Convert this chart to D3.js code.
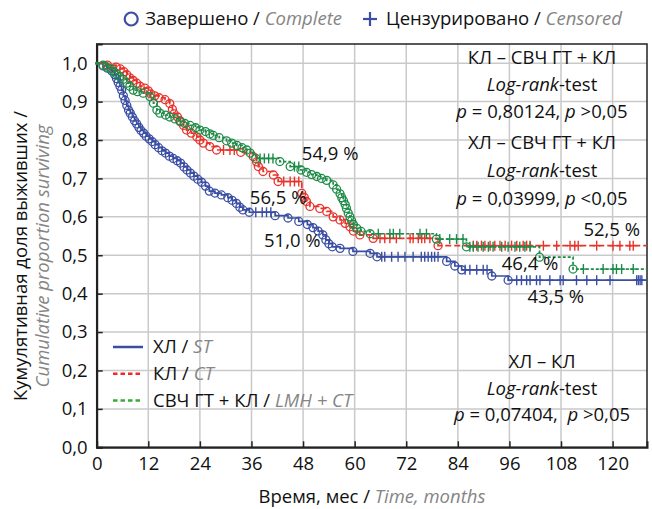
<!DOCTYPE html>
<html><head><meta charset="utf-8">
<script src="https://cdn.jsdelivr.net/npm/d3@7"></script>
<style>body{margin:0;background:#fff}svg{display:block}text{font-family:"Open Sans",sans-serif}</style>
</head><body><div id="c"></div>
<script>
// ---------------- data ----------------
const xTicks = [0,12,24,36,48,60,72,84,96,108,120];
const yTicks = [0,0.1,0.2,0.3,0.4,0.5,0.6,0.7,0.8,0.9,1.0];

// ХЛ / ST
const stTimes = [1.5,2.5,3.5,4.2,4.6,5.0,5.4,5.8,6.2,6.6,7.0,7.4,7.8,8.3,8.8,9.3,9.8,10.3,10.9,11.5,12.2,12.9,13.6,14.4,15.2,16.0,16.9,17.8,18.7,19.5,20.3,21.0,21.8,22.6,23.5,24.4,25.3,26.2,27.5,29.0,30.5,31.5,32.5,33.3,34.0,35.5,41.5,44.5,47.0,49.0,50.3,51.5,52.6,53.3,54.0,54.8,56.6,59.6,63.6,65.2,81.4,83.3,84.9,91.9,95.7];
const stSurv  = [0.993,0.987,0.98,0.97,0.96,0.95,0.94,0.93,0.915,0.903,0.89,0.878,0.87,0.86,0.85,0.842,0.833,0.825,0.818,0.81,0.803,0.796,0.788,0.78,0.772,0.766,0.758,0.752,0.746,0.74,0.73,0.722,0.714,0.706,0.698,0.69,0.68,0.667,0.662,0.657,0.65,0.643,0.635,0.625,0.618,0.612,0.603,0.597,0.588,0.58,0.572,0.563,0.553,0.54,0.53,0.522,0.518,0.51,0.505,0.496,0.484,0.472,0.462,0.446,0.435];
const stCensored = [37,38.5,39.5,40.5,66.3,67,68.6,70.1,71.7,73.6,75.5,76.3,77.1,77.9,78.6,79.4,85.7,86.8,88.4,89.9,90.8,97.7,98.8,100,100.8,102.3,103.1,105.4,107.8,108.5,111.6,114,116.3,119.4,125.6,126,126.4,126.8];

// КЛ / CT
const ctTimes = [2.5,4.5,5.5,6.3,7.0,7.7,8.5,9.3,10.1,11.2,12.0,12.6,13.5,14.5,15.9,17.0,17.6,18.0,18.8,19.4,20.2,20.9,22.0,23.3,24.0,24.8,26.3,27.9,33.5,36.4,37.2,37.6,38.7,41.1,42.2,47.7,48.3,48.8,49.6,51.9,53.5,55.0,56.6,57.8,58.9,59.7,61.2,64.3,79.4];
const ctSurv  = [0.995,0.99,0.985,0.978,0.97,0.962,0.955,0.948,0.94,0.935,0.928,0.92,0.915,0.91,0.905,0.895,0.88,0.868,0.86,0.85,0.838,0.826,0.818,0.808,0.8,0.792,0.783,0.774,0.768,0.757,0.743,0.731,0.718,0.709,0.692,0.661,0.65,0.64,0.627,0.622,0.614,0.6,0.592,0.583,0.574,0.563,0.553,0.544,0.525];
const ctCensored = [29.5,31,32,43.5,45,46,47,65.9,67,68.2,69.7,72.9,73.6,74.8,75.6,76.3,77.5,87.6,88.4,89.5,90.3,91.5,92.6,93.8,95,96.5,97.7,99.2,100,100.8,103.9,107,110.1,111.2,112,116.3,120.1,121.7,124,124.8];

// СВЧ ГТ + КЛ / LMH + CT
const lmhTimes = [1.5,2.3,3.3,4.0,4.7,5.4,6.2,7.0,7.7,8.5,9.5,10.8,12.4,13.2,14.0,14.7,16.0,17.0,18.2,19.4,20.5,21.7,23.0,24.0,25.3,26.3,27.1,28.5,30.2,31.4,32.6,33.8,34.9,35.7,37.0,42.6,45.0,47.5,48.8,50.0,51.2,52.3,53.5,55.0,55.8,56.6,57.0,57.4,57.8,58.1,58.5,58.9,59.3,59.7,60.5,61.5,63.6,79.0,86.0,103.0,110.8];
const lmhSurv  = [0.995,0.99,0.985,0.978,0.972,0.965,0.958,0.948,0.94,0.93,0.926,0.922,0.913,0.896,0.878,0.87,0.865,0.86,0.855,0.848,0.843,0.838,0.832,0.826,0.822,0.816,0.812,0.806,0.798,0.792,0.786,0.78,0.774,0.766,0.752,0.744,0.731,0.722,0.716,0.71,0.705,0.7,0.695,0.683,0.672,0.66,0.65,0.642,0.632,0.622,0.61,0.6,0.59,0.58,0.57,0.562,0.556,0.542,0.522,0.495,0.464];
const lmhCensored = [38,39,40,41,46,47,65.5,68.2,69,70.5,75.2,76.7,79.8,82.1,83.7,85.2,86.8,87.6,88.7,89.9,91.1,92.2,94.2,95.7,97.3,98.4,99.6,100.8,113.2,117.8,120.1,120.9,122.1,124.8];

const series = [
  {name:"ХЛ", en:"ST", times:stTimes, surv:stSurv, cens:stCensored, color:"#3a4ea3", legendColor:"#3a4ea3", dash:null},
  {name:"КЛ", en:"CT", times:ctTimes, surv:ctSurv, cens:ctCensored, color:"#e8332b", legendColor:"#f0282a", dash:"6,3"},
  {name:"СВЧ ГТ + КЛ", en:"LMH + CT", times:lmhTimes, surv:lmhSurv, cens:lmhCensored, color:"#1e8c48", legendColor:"#3aab3a", dash:"3,2"}
];

const pctLabels = [
  {text:"54,9 %", t:54.3, s:0.765},
  {text:"56,5 %", t:42.2, s:0.651},
  {text:"51,0 %", t:45.5, s:0.538},
  {text:"52,5 %", t:119.8, s:0.566},
  {text:"46,4 %", t:100.8, s:0.479},
  {text:"43,5 %", t:106.8, s:0.392}
];

// ---------------- drawing ----------------
const FS = "18.5px";
const W = 652, H = 509;
const svg = d3.select("#c").append("svg").attr("width",W).attr("height",H);
const L = 96.7, R = 647, T = 44, B = 447.3;
const x = d3.scaleLinear().domain([0,128]).range([L,R]);
const y = d3.scaleLinear().domain([0,1.05]).range([B,T]);

// grid
svg.append("g").selectAll("line").data(xTicks.filter(d=>d>0)).join("line")
  .attr("x1",d=>x(d)).attr("x2",d=>x(d)).attr("y1",T).attr("y2",B)
  .attr("stroke","#c9c9c9").attr("stroke-width",1.5);
svg.append("g").selectAll("line").data(yTicks.filter(d=>d>0)).join("line")
  .attr("x1",L).attr("x2",R).attr("y1",d=>y(d)).attr("y2",d=>y(d))
  .attr("stroke","#c9c9c9").attr("stroke-width",1.5);

// frame
svg.append("rect").attr("x",L).attr("y",T).attr("width",R-L).attr("height",B-T)
  .attr("fill","none").attr("stroke","#222").attr("stroke-width",1.5);

// axes (inner ticks)
const xAxis = d3.axisBottom(x).tickValues(xTicks).tickSize(-6).tickPadding(10).tickFormat(d3.format("d"));
const gx = svg.append("g").attr("transform",`translate(0,${B})`).call(xAxis);
const yAxis = d3.axisLeft(y).tickValues(yTicks).tickSize(-6).tickPadding(9).tickFormat(d=>d3.format(".1f")(d).replace(".",","));
const gy = svg.append("g").attr("transform",`translate(${L},0)`).call(yAxis);
[gx,gy].forEach(g=>{
  g.select(".domain").attr("stroke","#222").attr("stroke-width",2);
  g.selectAll(".tick line").attr("stroke","#222").attr("stroke-width",1.5);
  g.selectAll(".tick text").attr("fill","#111").style("font-size",FS).style("font-family","'Open Sans',sans-serif");
});

// curves
function survAt(sr,t){let s=1;for(let i=0;i<sr.times.length;i++){if(sr.times[i]<=t)s=sr.surv[i];}return s;}
const line = d3.line().x(d=>x(d[0])).y(d=>y(d[1])).curve(d3.curveStepAfter);
const plot = svg.append("g");
series.forEach(sr=>{
  const pts=[[0,1]].concat(sr.times.map((t,i)=>[t,sr.surv[i]]));
  pts.push([128,sr.surv[sr.surv.length-1]]);
  const g=plot.append("g");
  g.append("path").attr("d",line(pts)).attr("fill","none").attr("stroke",sr.color)
    .attr("stroke-width",1.7).attr("stroke-dasharray",sr.dash);
  g.selectAll("circle").data(sr.times.map((t,i)=>[t,sr.surv[i]])).join("circle")
    .attr("cx",d=>x(d[0])).attr("cy",d=>y(d[1])).attr("r",4)
    .attr("fill","none").attr("stroke",sr.color).attr("stroke-width",1.3);
  const cg=g.append("g");
  sr.cens.forEach(t=>{
    const cx=x(t), cy=y(survAt(sr,t));
    cg.append("line").attr("x1",cx).attr("x2",cx).attr("y1",cy-5).attr("y2",cy+5).attr("stroke",sr.color).attr("stroke-width",1.4);
    cg.append("line").attr("x1",cx-3.5).attr("x2",cx+3.5).attr("y1",cy).attr("y2",cy).attr("stroke",sr.color).attr("stroke-width",1.4);
  });
  g.append("circle").attr("cx",x(0)).attr("cy",y(1)).attr("r",1.5).attr("fill",sr.color);
});

// percentage labels
svg.append("g").selectAll("text").data(pctLabels).join("text")
  .attr("x",d=>x(d.t)).attr("y",d=>y(d.s)).attr("text-anchor","middle").attr("dy","0.35em")
  .style("font-size",FS).attr("fill","#111").text(d=>d.text);

// log-rank annotations
function mixed(sel, parts){
  parts.forEach(p=>{sel.append("tspan").style("font-style",p.i?"italic":"normal").attr("fill",p.c||"#111").text(p.t);});
}
const annX = 542;
const ann = [
  {y:58, parts:[{t:"КЛ – СВЧ ГТ + КЛ"}]},
  {y:85, parts:[{t:"Log-rank",i:1},{t:"-test"}]},
  {y:112, parts:[{t:"p",i:1},{t:" = 0,80124, "},{t:"p",i:1},{t:" >0,05"}]},
  {y:143, parts:[{t:"ХЛ – СВЧ ГТ + КЛ"}]},
  {y:171, parts:[{t:"Log-rank",i:1},{t:"-test"}]},
  {y:199, parts:[{t:"p",i:1},{t:" = 0,03999, "},{t:"p",i:1},{t:" <0,05"}]},
  {y:362, parts:[{t:"ХЛ – КЛ"}]},
  {y:389, parts:[{t:"Log-rank",i:1},{t:"-test"}]},
  {y:415, parts:[{t:"p",i:1},{t:" = 0,07404,  "},{t:"p",i:1},{t:" >0,05"}]}
];
ann.forEach(a=>{
  const t=svg.append("text").attr("x",annX).attr("y",a.y).attr("dy","0.35em").attr("text-anchor","middle")
    .style("font-size",FS).style("white-space","pre");
  mixed(t,a.parts);
});

// bottom-left legend
series.forEach((sr,i)=>{
  const ly=347+i*26.7;
  svg.append("line").attr("x1",113).attr("x2",143).attr("y1",ly).attr("y2",ly)
    .attr("stroke",sr.legendColor).attr("stroke-width",2.5).attr("stroke-dasharray",sr.dash?"4.5,3":null);
  const t=svg.append("text").attr("x",153).attr("y",ly).attr("dy","0.35em").style("font-size",FS);
  mixed(t,[{t:sr.name+" / "},{t:sr.en,i:1,c:"#858585"}]);
});

// top legend
const tl1=svg.append("text").attr("x",342).attr("y",19).attr("dy","0.35em").attr("text-anchor","end").style("font-size",FS);
mixed(tl1,[{t:"Завершено / "},{t:"Complete",i:1,c:"#858585"}]);
const tl1Start = 342 - tl1.node().getComputedTextLength();
svg.append("circle").attr("cx",tl1Start-14).attr("cy",19).attr("r",6.5).attr("fill","none").attr("stroke","#3a4ea3").attr("stroke-width",2.2);
const plusX = 370;
svg.append("line").attr("x1",plusX-7).attr("x2",plusX+7).attr("y1",19).attr("y2",19).attr("stroke","#3a4ea3").attr("stroke-width",2.2);
svg.append("line").attr("x1",plusX).attr("x2",plusX).attr("y1",12).attr("y2",26).attr("stroke","#3a4ea3").attr("stroke-width",2.2);
const tl2=svg.append("text").attr("x",386).attr("y",19).attr("dy","0.35em").style("font-size",FS);
mixed(tl2,[{t:"Цензурировано / "},{t:"Censored",i:1,c:"#858585"}]);

// axis titles
const xt=svg.append("text").attr("x",372).attr("y",497).attr("dy","0.35em").attr("text-anchor","middle").style("font-size",FS);
mixed(xt,[{t:"Время, мес / "},{t:"Time, months",i:1,c:"#858585"}]);
svg.append("text").attr("transform","translate(21,256) rotate(-90)").attr("text-anchor","middle").attr("dy","0.35em")
  .style("font-size",FS).attr("fill","#111").text("Кумулятивная доля выживших /");
svg.append("text").attr("transform","translate(43,256) rotate(-90)").attr("text-anchor","middle").attr("dy","0.35em")
  .style("font-size",FS).style("font-style","italic").attr("fill","#858585").text("Cumulative proportion surviving");
</script></body></html>
